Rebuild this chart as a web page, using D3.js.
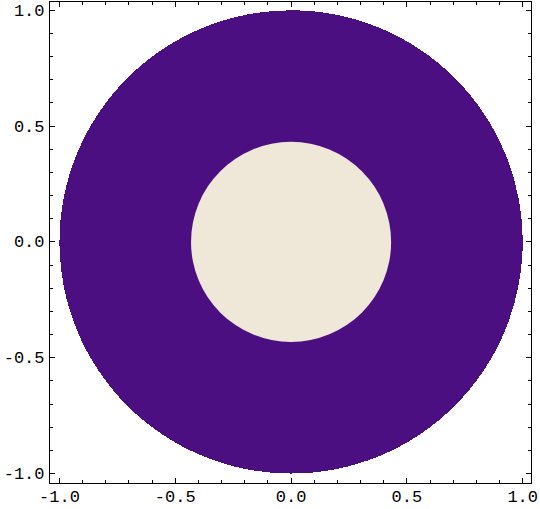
<!doctype html>
<html lang="en">
<head>
    <meta charset="UTF-8">
    <title>Region plot</title>
    <script src="https://d3js.org/d3.v7.min.js"></script>
    <style>
        body { margin: 0; background: #fff; }
        .tick-label { font-family: "Liberation Mono", "DejaVu Sans Mono", monospace; font-size: 17px; fill: #000; }
    </style>
</head>
<body>
<div id="chart-area"></div>

<script>

// region: inner radius < r < outer radius
const outerRadius = [1.0];
const innerRadius = [0.432];

const majorTicks  = [-1.0, -0.5, 0.0, 0.5, 1.0];
const tickLabels  = ['-1.0', '-0.5', '0.0', '0.5', '1.0'];
const minorTicks  = [-0.9, -0.8, -0.7, -0.6, -0.4, -0.3, -0.2, -0.1,
                     0.1, 0.2, 0.3, 0.4, 0.6, 0.7, 0.8, 0.9];

const W = 540, H = 509;
const frame = { left: 49.5, right: 531.5, top: 1.5, bottom: 483.5 };

const svg = d3.select('#chart-area')
    .append('svg')
    .attr('width', W)
    .attr('height', H);

const x = d3.scaleLinear()
    .domain([-1.043, 1.038])
    .range([frame.left, frame.right]);

const y = d3.scaleLinear()
    .domain([-1.043, 1.038])
    .range([frame.bottom, frame.top]);

const k = x(1) - x(0);

const g = svg.append('g');

g.selectAll('circle.outer')
    .data(outerRadius)
    .enter()
    .append('circle')
        .attr('class', 'outer')
        .attr('cx', x(0))
        .attr('cy', y(0))
        .attr('r', d => d * k)
        .attr('fill', '#4b0f82')
        .attr('shape-rendering', 'crispEdges');

g.selectAll('circle.inner')
    .data(innerRadius)
    .enter()
    .append('circle')
        .attr('class', 'inner')
        .attr('cx', x(0))
        .attr('cy', y(0))
        .attr('r', d => d * k)
        .attr('fill', '#efe7d8');

// frame
svg.append('rect')
    .attr('x', frame.left)
    .attr('y', frame.top)
    .attr('width', frame.right - frame.left)
    .attr('height', frame.bottom - frame.top)
    .attr('fill', 'none')
    .attr('stroke', '#000')
    .attr('stroke-width', 1);

// ticks on all four sides, pointing inward
function ticks(values, len) {
    const t = svg.append('g')
        .attr('stroke', '#000')
        .attr('stroke-width', 1)
        .attr('shape-rendering', 'crispEdges');

    values.forEach(v => {
        const px = Math.round(x(v) - 0.5) + 0.5;
        const py = Math.round(y(v) - 0.5) + 0.5;
        t.append('line').attr('x1', px).attr('x2', px).attr('y1', frame.bottom).attr('y2', frame.bottom - len);
        t.append('line').attr('x1', px).attr('x2', px).attr('y1', frame.top).attr('y2', frame.top + len);
        t.append('line').attr('y1', py).attr('y2', py).attr('x1', frame.left).attr('x2', frame.left + len);
        t.append('line').attr('y1', py).attr('y2', py).attr('x1', frame.right).attr('x2', frame.right - len);
    });
}
ticks(majorTicks, 5.5);
ticks(minorTicks, 3.5);

svg.selectAll('text.xl')
    .data(majorTicks)
    .enter()
    .append('text')
        .attr('class', 'tick-label xl')
        .attr('x', d => x(d))
        .attr('y', frame.bottom + 18)
        .attr('text-anchor', 'middle')
        .text((d, i) => tickLabels[i]);

svg.selectAll('text.yl')
    .data(majorTicks)
    .enter()
    .append('text')
        .attr('class', 'tick-label yl')
        .attr('x', frame.left - 5)
        .attr('y', d => y(d))
        .attr('dy', '0.32em')
        .attr('text-anchor', 'end')
        .text((d, i) => tickLabels[i]);

</script>

</body>
</html>
